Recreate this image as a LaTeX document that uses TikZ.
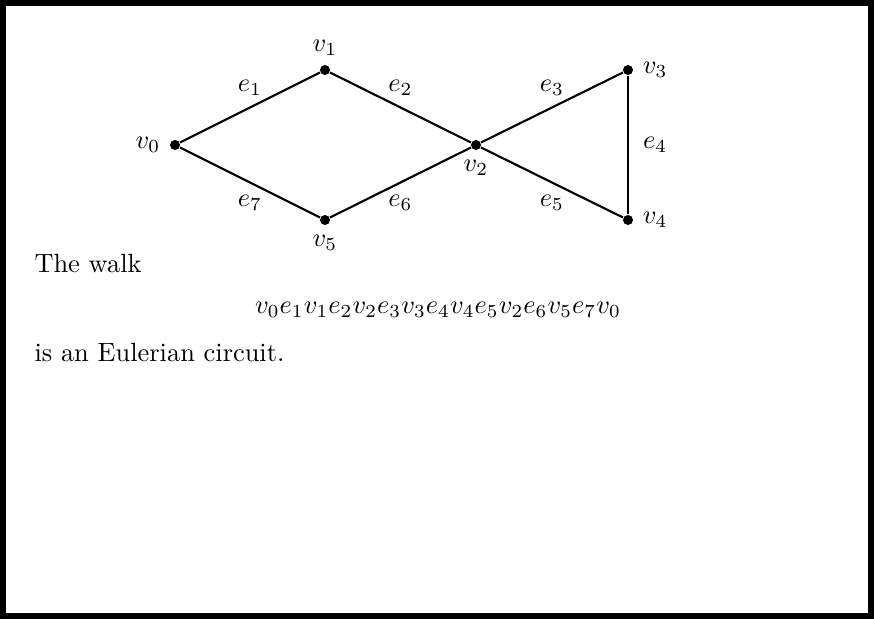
\documentclass[tikz,border=0pt]{standalone}
\usetikzlibrary{positioning}

\begin{document}
\begin{tikzpicture}[
  x=0.379pt, y=-0.379pt,
  vertex/.style={circle, fill=black, inner sep=0pt, minimum size=3.8pt},
  edge/.style={black, thick},
  elabel/.style={font=\normalsize},
  frame/.style={draw=black, line width=2.3pt}
]
  \useasboundingbox (0,0) rectangle (874,619);
  \draw[frame] (3,3) rectangle (871,616);

  % Vertices
  \node[vertex, label={left:$v_0$}] (v0) at (175,145) {};
  \node[vertex, label={above:$v_1$}] (v1) at (325,70) {};
  \node[vertex, label={below:$v_2$}] (v2) at (476,145) {};
  \node[vertex, label={right:$v_3$}] (v3) at (628,70) {};
  \node[vertex, label={right:$v_4$}] (v4) at (628,220) {};
  \node[vertex, label={below:$v_5$}] (v5) at (325,220) {};

  % Edges
  \draw[edge] (v0) -- node[elabel, above=1pt] {$e_1$} (v1);
  \draw[edge] (v1) -- node[elabel, above=1pt] {$e_2$} (v2);
  \draw[edge] (v2) -- node[elabel, above=1pt] {$e_3$} (v3);
  \draw[edge] (v3) -- node[elabel, right=2pt] {$e_4$} (v4);
  \draw[edge] (v4) -- node[elabel, below=1pt] {$e_5$} (v2);
  \draw[edge] (v2) -- node[elabel, below=1pt] {$e_6$} (v5);
  \draw[edge] (v5) -- node[elabel, below=1pt] {$e_7$} (v0);

  % Text
  \node[anchor=base west, inner sep=0pt] (walk) at (34,273) {The walk};
  \node[anchor=base, inner sep=0pt] (circ) at (438,314) {$v_0e_1v_1e_2v_2e_3v_3e_4v_4e_5v_2e_6v_5e_7v_0$};
  \node[anchor=base west, inner sep=0pt] (euler) at (34,362) {is an Eulerian circuit.};
\end{tikzpicture}
\end{document}
